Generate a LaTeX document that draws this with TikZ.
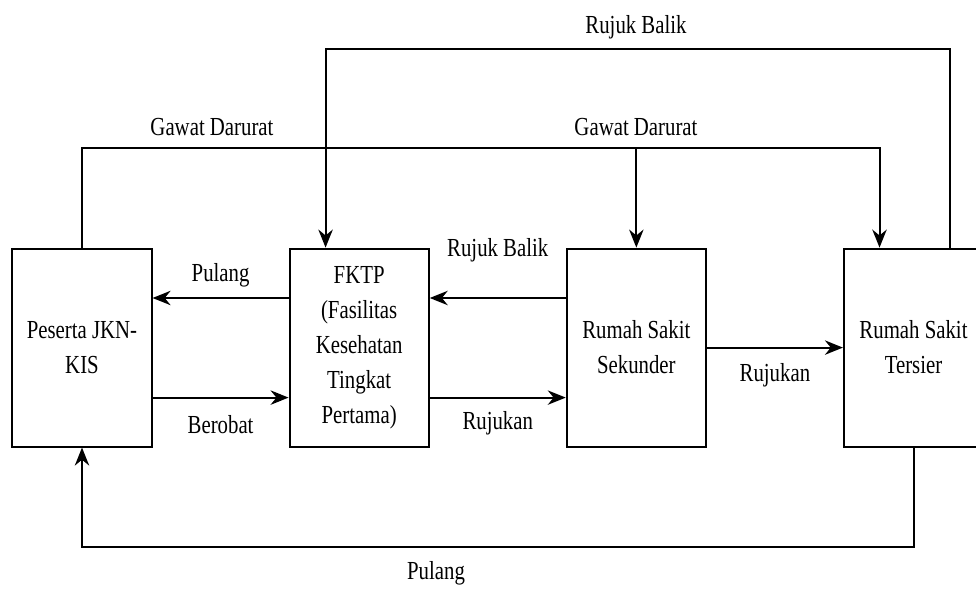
\documentclass[tikz,border=0pt]{standalone}
\usepackage{fontspec}
\setmainfont{Liberation Serif}[FakeStretch=0.8]
\usetikzlibrary{positioning,arrows.meta,calc}

\begin{document}
\begin{tikzpicture}[
    every node/.style={font=\fontsize{18.5}{24.9}\selectfont},
    stage/.style={draw, line width=1.4pt, minimum width=3.48cm, minimum height=4.95cm, align=center, inner sep=0pt},
    flow/.style={line width=1.4pt, -{Stealth[length=0.45cm,width=0.36cm]}},
    node distance=3.4cm]
    \useasboundingbox (0,0) rectangle (24.4,14.75);
    \clip (0,0) rectangle (24.4,14.75);

    % the four stages
    \node[stage] (peserta) at (2.05,6.06) {Peserta JKN-\\KIS};
    \node[stage, right=of peserta] (fktp) {FKTP\\(Fasilitas\\Kesehatan\\Tingkat\\Pertama)};
    \node[stage, right=of fktp] (sekunder) {Rumah Sakit\\Sekunder};
    \node[stage, right=of sekunder] (tersier) {Rumah Sakit\\Tersier};

    % between neighbours
    \draw[flow] ([yshift=1.24cm]fktp.west) -- ([yshift=1.24cm]peserta.east);
    \draw[flow] ([yshift=-1.25cm]peserta.east) -- ([yshift=-1.25cm]fktp.west);
    \draw[flow] ([yshift=1.24cm]sekunder.west) -- ([yshift=1.24cm]fktp.east);
    \draw[flow] ([yshift=-1.25cm]fktp.east) -- ([yshift=-1.25cm]sekunder.west);
    \draw[flow] (sekunder.east) -- (tersier.west);

    \node (pulangA) at ($(peserta.east)!0.5!(fktp.west)+(0,1.81)$) {Pulang};
    \node (berobat) at ($(peserta.east)!0.5!(fktp.west)+(0,-1.93)$) {Berobat};
    \node (balikA) at ($(fktp.east)!0.5!(sekunder.west)+(0,2.43)$) {Rujuk Balik};
    \node (rujukA) at ($(fktp.east)!0.5!(sekunder.west)+(0,-1.88)$) {Rujukan};
    \node (rujukB) at ($(sekunder.east)!0.5!(tersier.west)+(0,-0.7)$) {Rujukan};

    % long way round
    \coordinate (cabang) at (sekunder.north |- 0,11.05);
    \draw[flow] (peserta.north) -- ++(0,2.49) -| ([xshift=-0.85cm]tersier.north);
    \draw[flow] (cabang) -- (sekunder.north);
    \draw[flow] ([xshift=0.9cm]tersier.north) -- ++(0,4.965) -| ([xshift=-0.84cm]fktp.north);
    \draw[flow] (tersier.south) -- ++(0,-2.485) -| (peserta.south);

    \node (gawatA) at (5.3,11.575) {Gawat Darurat};
    \node (gawatB) at (15.9,11.575) {Gawat Darurat};
    \node (balikB) at (15.9,14.075) {Rujuk Balik};
    \node (pulangB) at (10.9,0.425) {Pulang};
\end{tikzpicture}
\end{document}
